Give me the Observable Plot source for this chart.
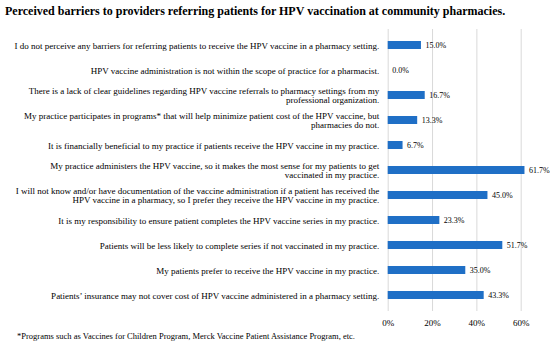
<!DOCTYPE html>
<html>
<head>
<meta charset="utf-8">
<script src="https://cdn.jsdelivr.net/npm/d3@7"></script>
<script src="https://cdn.jsdelivr.net/npm/@observablehq/plot@0.6"></script>
<style>
  body { margin: 0; background: white; width: 550px; height: 347px; overflow: hidden; }
  #title { font-family: "Liberation Serif", serif; font-weight: bold; font-size: 12px; height: 24px; line-height: 22px; padding-left: 5px; white-space: nowrap; color: #000; }
  #note { font-family: "Liberation Serif", serif; font-size: 8.5px; padding-left: 17px; line-height: 14px; white-space: nowrap; color: #000; }
  svg { display: block; }
</style>
</head>
<body>
<div id="title">Perceived barriers to providers referring patients for HPV vaccination at community pharmacies.</div>
<div id="chart"></div>
<div id="note">*Programs such as Vaccines for Children Program, Merck Vaccine Patient Assistance Program, etc.</div>
<script>
const labels = [
  "I do not perceive any barriers for referring patients to receive the HPV vaccine in a pharmacy setting.",
  "HPV vaccine administration is not within the scope of practice for a pharmacist.",
  "There is a lack of clear guidelines regarding HPV vaccine referrals to pharmacy settings from my\nprofessional organization.",
  "My practice participates in programs* that will help minimize patient cost of the HPV vaccine, but\npharmacies do not.",
  "It is financially beneficial to my practice if patients receive the HPV vaccine in my practice.",
  "My practice administers the HPV vaccine, so it makes the most sense for my patients to get\nvaccinated in my practice.",
  "I will not know and/or have documentation of the vaccine administration if a patient has received the\nHPV vaccine in a pharmacy, so I prefer they receive the HPV vaccine in my practice.",
  "It is my responsibility to ensure patient completes the HPV vaccine series in my practice.",
  "Patients will be less likely to complete series if not vaccinated in my practice.",
  "My patients prefer to receive the HPV vaccine in my practice.",
  "Patients\u2019 insurance may not cover cost of HPV vaccine administered in a pharmacy setting."
];
const values = [15.0, 0.0, 16.7, 13.3, 6.7, 61.7, 45.0, 23.3, 51.7, 35.0, 43.3];
const xTicks = [0, 20, 40, 60];

const data = labels.map((label, i) => ({label, value: values[i]}));

const chart = Plot.plot({
  width: 550,
  height: 305,
  marginLeft: 387.7,
  marginRight: 29.3,
  marginTop: 5,
  marginBottom: 18,
  style: {fontFamily: "Liberation Serif, serif", fontSize: "9px", color: "#000", background: "white"},
  x: {domain: [0, 60], label: null},
  y: {domain: labels, range: [5.2, 286.8], paddingInner: 0.69, paddingOuter: 0.345, axis: null, label: null},
  marks: [
    Plot.gridX(xTicks, {stroke: "#d9d9d9", strokeOpacity: 1}),
    Plot.barX(data, {x: "value", y: "label", fill: "#1f6fc6"}),
    Plot.text(data, {x: "value", y: "label", text: d => d.value.toFixed(1) + "%", textAnchor: "start", dx: 4, fontSize: 8, fill: "#000"}),
    Plot.text(data, {x: 0, y: "label", text: "label", textAnchor: "end", dx: -9, lineHeight: 1.05, fill: "#000"}),
    Plot.axisX(xTicks, {tickSize: 0, tickPadding: 8, tickFormat: d => d + "%", fontSize: 9, fill: "#000", label: null})
  ]
});
document.getElementById("chart").appendChild(chart);
</script>
</body>
</html>
